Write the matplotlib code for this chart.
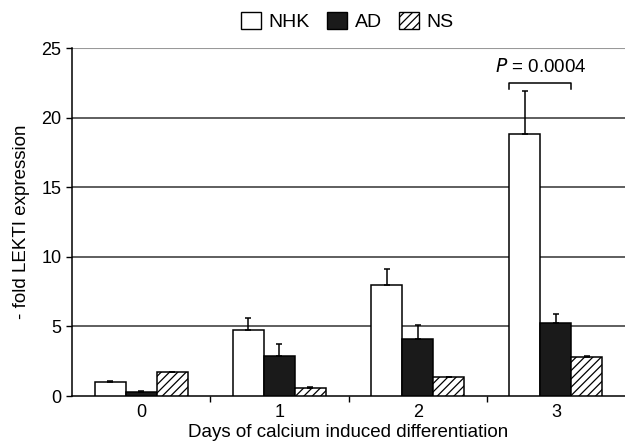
import numpy as np
import matplotlib
matplotlib.use("Agg")
import matplotlib.pyplot as plt
from matplotlib.patches import Patch

plt.rcParams['font.family'] = ['Liberation Sans', 'DejaVu Sans']
plt.rcParams['hatch.linewidth'] = 0.9

days = ['0', '1', '2', '3']
series = ['NHK', 'AD', 'NS']
nhk = [1.0, 4.75, 7.95, 18.8]
nhk_err = [0.1, 0.85, 1.15, 3.1]
ad = [0.3, 2.85, 4.1, 5.25]
ad_err = [0.05, 0.9, 1.0, 0.65]
ns = [1.7, 0.6, 1.35, 2.8]
ns_err = [0.05, 0.05, 0.05, 0.1]

fig = plt.figure(figsize=(6.25, 4.42), dpi=100)
ax = fig.add_axes([0.1152, 0.104, 0.8848, 0.787])

x = np.arange(len(days))
w = 0.224
styles = [dict(color='white'), dict(color='#1a1a1a'), dict(color='white', hatch='////')]
for i, (vals, errs, st) in enumerate(zip([nhk, ad, ns], [nhk_err, ad_err, ns_err], styles)):
    pos = x + (i - 1) * w
    ax.bar(pos, vals, w, facecolor=st['color'], edgecolor='black', linewidth=1.1,
           hatch=st.get('hatch'), zorder=3)
    ax.errorbar(pos, vals, yerr=[np.zeros(len(vals)), errs], fmt='none',
                ecolor='black', elinewidth=1.1, capsize=2.5, capthick=1.1, zorder=4)

ax.set_xlim(-0.5, 3.5)
ax.set_ylim(0, 25)
ax.set_yticks([0, 5, 10, 15, 20, 25])
for yv in [5, 10, 15, 20]:
    ax.axhline(yv, color='#333333', linewidth=1.1, zorder=1)
ax.axhline(25, color='#999999', linewidth=1.5, zorder=1)

ax.set_xticks(x)
ax.set_xticklabels(days)
ax.set_xticks([0.5, 1.5, 2.5], minor=True)
ax.tick_params(axis='x', which='major', length=0, labelsize=13, pad=6)
ax.tick_params(axis='x', which='minor', length=4, width=1, direction='out')
ax.tick_params(axis='y', labelsize=13, length=4, width=1, direction='out')

for s in ['top', 'right']:
    ax.spines[s].set_visible(False)
ax.spines['left'].set_linewidth(1.1)
ax.spines['bottom'].set_linewidth(1.1)

ax.set_xlabel('Days of calcium induced differentiation', fontsize=13.5, labelpad=2)
ax.set_ylabel('- fold LEKTI expression', fontsize=13.5, labelpad=8)

# significance bracket
bx0, bx1 = 3 - 1.5 * w, 3 + 0.5 * w
ax.plot([bx0, bx0, bx1, bx1], [22.1, 22.5, 22.5, 22.1], color='black', linewidth=1.1,
        clip_on=False, zorder=5)
ax.text((bx0 + bx1) / 2, 23.0, r'$\it{P}$ = 0.0004', ha='center', va='bottom', fontsize=13.5)

handles = [Patch(facecolor='white', edgecolor='black', label='NHK'),
           Patch(facecolor='#1a1a1a', edgecolor='black', label='AD'),
           Patch(facecolor='white', edgecolor='black', hatch='////', label='NS')]
fig.legend(handles=handles, loc='center', bbox_to_anchor=(0.556, 0.952), ncol=3,
           frameon=False, fontsize=14, handlelength=1.0, handleheight=1.0,
           handletextpad=0.4, columnspacing=0.9)

fig.savefig('out.png', dpi=100)
